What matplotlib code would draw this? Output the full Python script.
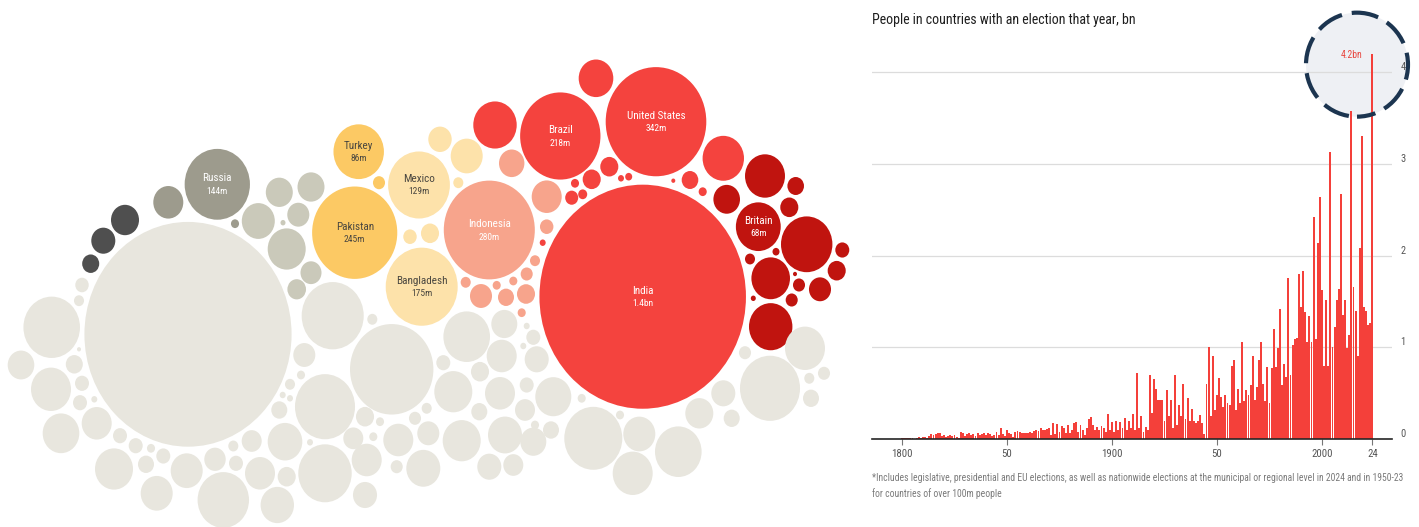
import numpy as np
import matplotlib
matplotlib.use("Agg")
import matplotlib.pyplot as plt
from matplotlib import font_manager
from matplotlib.patches import Ellipse

W, H = 1419, 527

def pick_font(names):
    for n in names:
        try:
            font_manager.findfont(n, fallback_to_default=False)
            return n
        except ValueError:
            continue
    return "DejaVu Sans"

font = pick_font(["Liberation Sans Narrow", "Roboto Condensed", "Roboto", "Open Sans"])
plt.rcParams["font.family"] = [font, "DejaVu Sans"]

# ---- bar chart data: people in countries with an election that year, bn
years = np.arange(1800, 2025)
people_bn = [
    0.015, 0.01, 0.015, 0.01, 0.015, 0.01, 0.005, 0.015, 0.02, 0.01,
    0.02, 0.02, 0.015, 0.03, 0.05, 0.04, 0.05, 0.06, 0.07, 0.03,
    0.04, 0.02, 0.035, 0.04, 0.03, 0.04, 0.02, 0.01, 0.08, 0.07,
    0.03, 0.05, 0.06, 0.04, 0.05, 0.03, 0.06, 0.04, 0.05, 0.07,
    0.04, 0.06, 0.05, 0.03, 0.04, 0.08, 0.04, 0.12, 0.05, 0.03,
    0.10, 0.07, 0.05, 0.02, 0.08, 0.09, 0.08, 0.07, 0.06, 0.07,
    0.07, 0.08, 0.06, 0.09, 0.10, 0.09, 0.12, 0.10, 0.10, 0.11,
    0.12, 0.04, 0.17, 0.05, 0.16, 0.08, 0.14, 0.12, 0.06, 0.15,
    0.06, 0.10, 0.17, 0.18, 0.08, 0.15, 0.10, 0.04, 0.12, 0.22,
    0.24, 0.15, 0.10, 0.13, 0.10, 0.14, 0.12, 0.08, 0.27, 0.10,
    0.18, 0.08, 0.20, 0.10, 0.18, 0.12, 0.23, 0.10, 0.20, 0.12,
    0.27, 0.10, 0.72, 0.12, 0.25, 0.08, 0.13, 0.10, 0.70, 0.28,
    0.65, 0.55, 0.42, 0.43, 0.42, 0.20, 0.53, 0.25, 0.42, 0.12,
    0.70, 0.15, 0.37, 0.25, 0.60, 0.22, 0.45, 0.20, 0.33, 0.20,
    0.17, 0.20, 0.26, 0.17, 0.05, 0.60, 1.00, 0.25, 0.90, 0.32,
    0.48, 0.66, 0.46, 0.35, 0.48, 0.39, 0.37, 0.80, 0.86, 0.32,
    0.55, 0.39, 1.06, 0.41, 0.53, 0.48, 0.59, 0.90, 0.42, 0.57,
    0.86, 1.06, 0.60, 0.41, 0.79, 0.39, 0.77, 1.20, 0.78, 0.99,
    1.42, 0.59, 0.82, 0.68, 1.76, 0.70, 1.02, 1.09, 1.10, 1.80,
    1.44, 1.83, 1.38, 1.06, 1.34, 1.06, 2.42, 1.09, 2.14, 2.64,
    1.62, 0.80, 1.51, 0.80, 3.13, 1.00, 1.22, 1.51, 1.64, 2.67,
    1.35, 1.51, 0.99, 1.13, 3.58, 1.66, 1.40, 0.90, 2.08, 3.30,
    1.44, 1.40, 1.24, 1.26, 4.20,
]
xtick_years = [1800, 1850, 1900, 1950, 2000, 2024]
xtick_labels = ["1800", "50", "1900", "50", "2000", "24"]
ytick_vals = [0, 1, 2, 3, 4]

# ---- bubble data: population (m) per country, colour group
# first ten are the labelled countries
label_names = ["Russia", "Turkey", "Pakistan", "Mexico", "Bangladesh",
               "Indonesia", "Brazil", "United States", "India", "Britain"]
label_values = ["144m", "86m", "245m", "129m", "175m",
                "280m", "218m", "342m", "1.4bn", "68m"]

bubble_group = (
    ["md", "am", "am", "ly", "ly", "sa", "re", "re", "re", "dr"]
    + ["dk"] * 3 + ["md"] * 2 + ["lm"] * 8 + ["am"] + ["ly"] * 5
    + ["sa"] * 12 + ["re"] * 14 + ["dr"] * 16 + ["lg"] * 91
)
bubble_pop = [
    144, 86, 245, 129, 175, 280, 218, 342, 1441, 68,
    # dark grey
    26.5, 19.5, 9.8,
    # mid grey
    30.4, 2.2,
    # light-mid grey
    24.6, 24.6, 36.8, 16.4, 0.85, 48.8, 14.9, 11.7,
    # amber
    4.9,
    # light yellow
    18.5, 6.1, 11, 34.6, 3.4,
    # salmon
    21.8, 30.4, 6.1, 3.4, 4.9, 11, 2.2, 8.65, 2.2, 16.4, 3.4, 2.2,
    # red
    40.5, 63.7, 57.9, 9.3, 2.2, 0.54, 11, 11, 2.2, 2.74, 5.7, 1.2, 1.66, 1.2,
    # dark red
    54, 23.9, 9.3, 11, 89.3, 6.6, 11, 16.4, 4.9, 4.9, 50.3, 63.7, 3.4, 1.66, 0.85, 0.54,
    # light grey (no election)
    1450, 108, 23.9, 54, 45.3, 6.1, 3.4, 9.8, 6.6, 6.6,
    30.4, 0.54, 1.2, 6.6, 6.6, 2.2, 6.6, 8.65, 48.8, 34.6,
    34.6, 15.5, 89.3, 3.4, 6.6, 13.5, 30.4, 37.7, 11, 40.5,
    8.65, 3.4, 1.2, 1.2, 2.2, 16.4, 130, 3.4, 121.7, 235,
    96.4, 1.2, 11, 13.5, 2.2, 2.2, 30.4, 19.5, 30.4, 4.9,
    39, 4.9, 3.4, 16.4, 6.6, 73.4, 22.8, 30.4, 19.5, 1.2,
    6.6, 1.2, 11, 48.8, 30.4, 6.6, 13.5, 43.8, 8.65, 2.2,
    8.65, 39, 48.8, 19.5, 13.5, 22.8, 113.7, 2.2, 34.6, 54,
    73.4, 2.2, 26.5, 19.5, 8.65, 121.7, 54, 4.9, 3.4, 4.9,
    8.65,
]

# packed layout of the bubbles (centres, in panel pixels)
layout_x = [
    217.3, 358.7, 354.7, 419, 421.7, 489.3, 560.3, 656, 642.7, 758.3,
    125, 103.3, 90.7,
    168.3, 235,
    279.3, 311, 258.3, 298.3, 283, 286.7, 311, 296.7,
    379,
    440, 410, 430, 466.7, 458.3,
    511.7, 546.7, 546.7, 535, 526.7, 526, 513.3, 506, 496.7, 481, 465.7, 521.7,
    596, 495, 723.3, 690, 702.7, 673.3, 609.3, 591.7, 575, 582.7, 571.7, 621, 628.7, 542.7,
    765, 726.7, 795.7, 789.3, 806.7, 842.3, 836.7, 820, 799, 791.7, 770.7, 770.7, 750, 776, 753.3, 795,
    188, 51.7, 21, 51, 61, 82, 79, 74.3, 82, 80,
    96.7, 79, 94.3, 120, 135.7, 151, 163.3, 146, 114, 156.7,
    186.7, 215, 223.3, 233.3, 236, 251.7, 260, 277.3, 286.7, 285,
    279.3, 290, 282.7, 290, 301, 304.3, 332.7, 372.3, 325, 391.7,
    325, 310, 365, 353.3, 373.3, 380, 366.7, 365, 398.3, 396.7,
    423.3, 415, 426.7, 428.3, 443.3, 466.7, 504.3, 501.7, 536.7, 526.7,
    533.3, 523.3, 480, 453.3, 500, 526.7, 525, 553.3, 479.3, 535,
    551, 505, 461.7, 489.3, 513.3, 533.3, 593.3, 620, 639.3, 632.7,
    678.3, 581.7, 699.3, 723.3, 731.7, 770, 805, 745, 809.3, 824,
    811,
]
layout_y = [
    184.3, 151.7, 232.7, 185, 286.7, 230, 136, 121.7, 296.7, 226.7,
    220, 240.7, 263.7,
    202.3, 223.7,
    192.3, 187, 221, 214.7, 222.7, 249, 272.7, 289.3,
    182.7,
    139.3, 236.7, 233.3, 156, 182.7,
    163.3, 196.7, 226.7, 260.7, 274, 294, 281, 297.3, 285.3, 296, 282.3, 312.7,
    78.3, 125, 158.3, 180, 191.7, 180.7, 166.7, 179.3, 183.3, 194.3, 197.7, 178.3, 176.7, 242.7,
    176, 199.3, 186, 207.3, 244.3, 250, 270.7, 289.3, 285, 300, 278.3, 326.7, 259, 251.7, 298.3, 274,
    334.3, 327.3, 365, 389.3, 433.3, 285, 300.7, 364.3, 383.3, 402.7,
    423.3, 349.3, 399.3, 435.7, 445.7, 448.3, 456, 464.3, 469, 493.3,
    470.7, 459.3, 500, 446, 463.3, 441, 473.3, 505, 476.7, 441.7,
    410, 384.3, 395, 398.3, 375, 355, 315.7, 319.3, 406.7, 369.3,
    473.3, 442.3, 416.7, 438.3, 436.7, 421.7, 460, 495, 440, 466.7,
    468.3, 418.3, 408.3, 433.3, 362.7, 336.7, 324, 356, 359.3, 326,
    337.3, 346, 371.7, 391.7, 393.3, 385, 410, 396.7, 411.7, 425,
    430, 435, 440.7, 466.7, 465, 441.7, 438.3, 415, 434, 473.3,
    451.7, 398.3, 413.3, 393.3, 418.3, 388.3, 348.3, 352.7, 378.3, 373.3,
    398.3,
]

group_colors = {
    "dk": "#4f4f4f", "md": "#9d9b8d", "lm": "#cac9ba", "am": "#fcc964",
    "ly": "#fde2aa", "sa": "#f7a48c", "re": "#f4433e", "dr": "#c0140f",
    "lg": "#e8e6de",
}
label_dark = {"Turkey", "Pakistan", "Mexico", "Bangladesh"}

fig = plt.figure(figsize=(W / 100, H / 100), dpi=100)
fig.patch.set_facecolor("white")

# ---------------- left: bubbles
ax1 = fig.add_axes([0, 0, 860 / W, 1])
ax1.set_xlim(0, 860)
ax1.set_ylim(H, 0)
ax1.axis("off")

k = 2.72          # radius per sqrt(million people)
stretch = 1.085   # the source picture is slightly taller than wide
n = min(len(bubble_pop), len(layout_x), len(layout_y), len(bubble_group))
for i in range(n):
    r = k * np.sqrt(bubble_pop[i])
    ax1.add_patch(Ellipse((layout_x[i], layout_y[i]), 2 * r, 2 * r * stretch,
                          facecolor=group_colors[bubble_group[i]], edgecolor="none"))

for i, (name, val) in enumerate(zip(label_names, label_values)):
    col = "#4a4740" if name in label_dark else "white"
    ax1.text(layout_x[i], layout_y[i] - 6, name, ha="center", va="center",
             fontsize=8, color=col)
    ax1.text(layout_x[i], layout_y[i] + 7, val, ha="center", va="center",
             fontsize=6.8, color=col)

# ---------------- right: bars
x0, x1 = 872, 1392
ytop, ybase = 44.5, 439
ax2 = fig.add_axes([x0 / W, (H - ybase) / H, (x1 - x0) / W, (ybase - ytop) / H])
ax2.bar(years, people_bn, width=0.92, color="#f4403a", linewidth=0, zorder=2)
ax2.set_xlim(1800 + (x0 - 902) / 2.1, 1800 + (x1 - 902) / 2.1)
ax2.set_ylim(0, (ybase - ytop) / 91.75)

ax2.set_yticks(ytick_vals)
ax2.yaxis.tick_right()
ax2.set_yticklabels([str(v) for v in ytick_vals], va="bottom")
ax2.tick_params(axis="y", length=0, pad=6, labelsize=7.5, labelcolor="#555555")
ax2.yaxis.grid(True, color="#dcdcdc", linewidth=0.9)
ax2.set_axisbelow(True)

ax2.set_xticks(xtick_years)
ax2.set_xticklabels(xtick_labels)
ax2.tick_params(axis="x", length=4, width=0.8, color="#777777", pad=3,
                labelsize=7.8, labelcolor="#555555")
for s in ["top", "right", "left"]:
    ax2.spines[s].set_visible(False)
ax2.spines["bottom"].set_color("#262626")
ax2.spines["bottom"].set_linewidth(1.2)
ax2.spines["bottom"].set_zorder(4)

# highlight ring around 2024
ring_c = (1800 + (1357 - 902) / 2.1, 4.08)
ring_w, ring_h = 102 / 2.1, 104 / 91.75
ax2.add_patch(Ellipse(ring_c, ring_w, ring_h, facecolor="#eef0f4",
                      edgecolor="none", zorder=0.3, clip_on=False))
ax2.add_patch(Ellipse(ring_c, ring_w, ring_h, fill=False, edgecolor="#1c3550",
                      linewidth=3, linestyle=(2, (6.5, 2.4)), zorder=3, clip_on=False))
ax2.text(2019.5, 4.19, "4.2bn", ha="right", va="center", fontsize=7,
         color="#e8473f", zorder=4)

fig.text(x0 / W, 1 - 20 / H, "People in countries with an election that year, bn",
         fontsize=10, color="#1e1e1e", va="center", ha="left")
fig.text(x0 / W, 1 - 478 / H,
         "*Includes legislative, presidential and EU elections, as well as nationwide "
         "elections at the municipal or regional level in 2024 and in 1950-23",
         fontsize=6.9, color="#7a7a7a", va="center", ha="left")
fig.text(x0 / W, 1 - 494 / H, "for countries of over 100m people",
         fontsize=6.9, color="#7a7a7a", va="center", ha="left")

fig.savefig("out.png", dpi=100, facecolor="white")
